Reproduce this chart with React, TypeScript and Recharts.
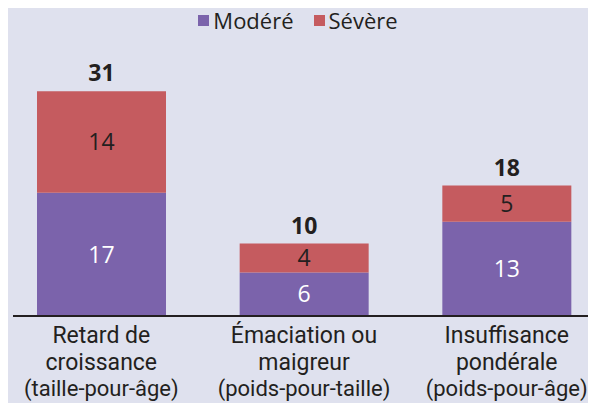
import React from "react";
import { BarChart, Bar, XAxis, YAxis, Legend, LabelList } from "recharts";

const categories = ["Retard de croissance", "Émaciation ou maigreur", "Insuffisance pondérale"];
const categoryLines = [
  ["Retard de", "croissance", "(taille-pour-âge)"],
  ["Émaciation ou", "maigreur", "(poids-pour-taille)"],
  ["Insuffisance", "pondérale", "(poids-pour-âge)"],
];
const modere = [17, 6, 13];
const severe = [14, 4, 5];
const totals = [31, 10, 18];

const data = categories.map((c, i) => ({ name: c, modere: modere[i], severe: severe[i], total: totals[i] }));

const FONT = "'Open Sans', sans-serif";
const TICK_FONT = "Roboto, sans-serif";
const PURPLE = "#7b63ab";
const RED = "#c55b5f";
const DARK = "#231f20";
const BG = "#dfe1ee";

const LINE_DY = [25, 27, 26];
const LINE_SIZES = [23, 23, 22];

const CategoryTick = (props: any) => {
  const { x, y, payload } = props;
  const idx = categories.indexOf(payload.value);
  const lines = categoryLines[idx] || [payload.value];
  return (
    <text x={x} y={y} textAnchor="middle" fill={DARK} fontFamily={TICK_FONT} fontSize={23}>
      {lines.map((l, i) => (
        <tspan key={i} x={x} dy={LINE_DY[i]} fontSize={LINE_SIZES[i]}>
          {l}
        </tspan>
      ))}
    </text>
  );
};

const TotalLabel = (props: any) => {
  const { x, y, width, index } = props;
  return (
    <text x={x + width / 2} y={y - 10} textAnchor="middle" fill={DARK} fontFamily={FONT} fontSize={23} fontWeight="bold">
      {totals[index]}
    </text>
  );
};

const LegendContent = () => (
  <div style={{ display: "flex", justifyContent: "center", alignItems: "center", fontFamily: FONT, fontSize: 22, color: DARK, lineHeight: "22px" }}>
    <span style={{ display: "inline-block", width: 11, height: 11, background: PURPLE, marginRight: 4 }} />
    <span style={{ marginRight: 20 }}>Modéré</span>
    <span style={{ display: "inline-block", width: 11, height: 11, background: RED, marginRight: 4 }} />
    <span>Sévère</span>
  </div>
);

export default function App() {
  return (
    <div style={{ marginLeft: -8, marginTop: -8, width: 604, height: 403, background: BG, overflow: "hidden" }}>
      <div style={{ width: 596, height: 403, overflow: "hidden", position: "relative", background: BG }}>
        <BarChart width={608} height={403} data={data} margin={{ top: 26, right: 0, left: 13, bottom: 0 }}>
          <XAxis
            dataKey="name"
            padding={{ left: -13, right: 0 }}
            axisLine={{ stroke: DARK, strokeWidth: 2 }}
            tickLine={false}
            tickSize={0}
            height={87}
            interval={0}
            tick={<CategoryTick />}
          />
          <YAxis hide domain={[0, 40]} />
          <Legend verticalAlign="middle" layout="horizontal" wrapperStyle={{ top: 9, left: 0, width: 596 }} content={<LegendContent />} />
          <Bar dataKey="modere" stackId="a" fill={PURPLE} barSize={129} isAnimationActive={false}>
            <LabelList dataKey="modere" position="center" fill="#ffffff" fontFamily={FONT} fontSize={23} />
          </Bar>
          <Bar dataKey="severe" stackId="a" fill={RED} barSize={129} isAnimationActive={false}>
            <LabelList dataKey="severe" position="center" fill={DARK} fontFamily={FONT} fontSize={23} />
            <LabelList dataKey="total" content={<TotalLabel />} />
          </Bar>
        </BarChart>
      </div>
    </div>
  );
}
